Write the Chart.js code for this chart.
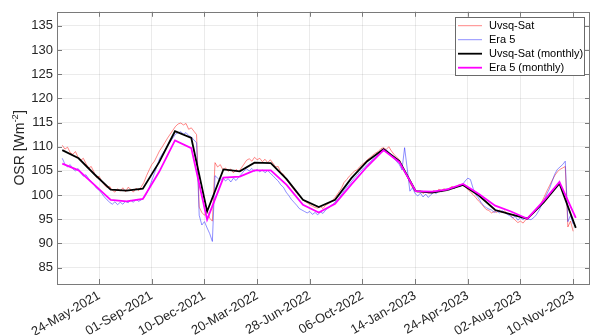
<!DOCTYPE html>
<html>
<head>
<meta charset="utf-8">
<script src="https://cdn.jsdelivr.net/npm/chart.js@4/dist/chart.umd.min.js"></script>
<style>
  html, body { margin: 0; padding: 0; background: #fff; }
</style>
</head>
<body>
<canvas id="chart" width="592" height="335"></canvas>
<script>
// x positions are days counted from 24-May-2021 (first labelled tick)
const tickLabels = ['24-May-2021', '01-Sep-2021', '10-Dec-2021', '20-Mar-2022', '28-Jun-2022',
  '06-Oct-2022', '14-Jan-2023', '24-Apr-2023', '02-Aug-2023', '10-Nov-2023'];
const tickDays = [0, 100, 200, 300, 400, 500, 600, 700, 800, 900];
const yTicks = [85, 90, 95, 100, 105, 110, 115, 120, 125, 130, 135];

// monthly means (mid-month)
const monthDates = ['2021-03-15', '2021-04-15', '2021-05-15', '2021-06-15', '2021-07-15', '2021-08-15',
  '2021-09-15', '2021-10-15', '2021-11-15', '2021-12-15', '2022-01-15', '2022-02-15',
  '2022-03-15', '2022-04-15', '2022-05-15', '2022-06-15', '2022-07-15', '2022-08-15',
  '2022-09-15', '2022-10-15', '2022-11-15', '2022-12-15', '2023-01-15', '2023-02-15',
  '2023-03-15', '2023-04-15', '2023-05-15', '2023-06-15', '2023-07-15', '2023-08-15',
  '2023-09-15', '2023-10-15', '2023-11-15'];
const uvsqMonthly = [109.3, 107.6, 104.3, 101.1, 100.9, 101.3, 106.8, 113.2, 111.8, 96.6, 105.3, 104.9,
  106.7, 106.6, 103.3, 99.0, 97.5, 99.0, 103.5, 107.0, 109.5, 107.0, 100.8, 100.5,
  101.0, 102.1, 99.9, 96.9, 96.0, 95.1, 98.5, 102.4, 93.2];
const era5Monthly = [106.5, 105.1, 102.1, 99.0, 98.7, 99.2, 104.8, 111.3, 109.7, 94.9, 103.6, 103.8,
  105.1, 105.1, 102.1, 98.0, 96.4, 98.2, 102.2, 105.9, 109.3, 106.8, 100.8, 100.7,
  101.1, 102.3, 100.2, 97.8, 96.6, 95.1, 98.8, 102.7, 95.3];

// daily series, one value every 5 days from 15-Mar-2021
const dailyStart = '2021-03-15';
const dailyStep = 5;
const uvsqDaily = [
  110.3, 109.5, 109.9, 108.8, 108.4, 109.0, 107.8, 107.2, 107.6, 106.5,
  105.6, 105.9, 104.8, 103.6, 103.9, 102.8, 102.1, 101.5, 101.8, 101.0,
  100.6, 101.3, 100.8, 101.5, 100.7, 101.6, 101.2, 100.6, 101.4, 100.9,
  101.7, 102.6, 104.0, 105.2, 106.3, 107.0, 108.1, 109.2, 110.0, 110.9,
  111.8, 112.6, 113.4, 114.2, 114.7, 114.9, 114.5, 114.8, 113.6, 113.9,
  113.2, 112.5, 97.5, 96.4, 95.8, 96.9, 95.2, 94.6, 106.7, 105.8,
  106.3, 105.2, 105.6, 104.9, 105.4, 104.6, 105.3, 104.8, 105.6, 106.4,
  107.2, 107.5, 107.0, 107.8, 107.3, 107.6, 106.9, 107.4, 106.7, 107.3,
  106.6, 105.8, 105.9, 104.6, 104.3, 103.2, 102.6, 101.8, 101.1, 100.4,
  99.9, 99.2, 98.7, 98.4, 98.0, 97.7, 97.4, 97.3, 97.6, 97.2,
  97.9, 98.2, 98.6, 99.1, 99.8, 100.6, 101.4, 102.6, 103.2, 103.9,
  104.4, 105.0, 105.2, 105.9, 106.4, 106.8, 107.4, 107.8, 108.3, 108.7,
  109.0, 109.6, 109.8, 109.4, 110.0, 109.1, 108.4, 107.8, 107.3, 105.9,
  104.8, 103.9, 102.5, 101.5, 101.0, 100.6, 100.9, 100.3, 100.7, 100.4,
  100.5, 100.9, 100.7, 101.2, 101.0, 101.3, 101.1, 101.4, 101.8, 101.5,
  101.9, 102.2, 102.0, 101.7, 101.2, 100.6, 100.1, 99.5, 98.8, 98.3,
  97.6, 97.0, 96.8, 96.3, 96.6, 96.4, 96.9, 96.3, 96.7, 96.2,
  96.0, 95.3, 94.8, 94.3, 94.6, 94.2, 94.9, 95.2, 96.0, 96.2,
  96.8, 97.6, 98.5, 99.6, 100.8, 101.9, 103.0, 104.0, 104.8, 105.3,
  105.6, 105.9, 93.4, 94.6, 92.5
];
const era5Daily = [
  107.6, 106.4, 105.8, 106.3, 105.4, 105.0, 105.5, 104.6, 103.9, 104.2,
  103.4, 102.8, 102.2, 101.4, 101.0, 100.3, 99.6, 99.0, 98.5, 98.1,
  98.6, 98.0, 98.5, 98.1, 98.7, 98.4, 98.9, 98.5, 99.1, 98.7,
  99.0, 99.4, 100.3, 101.5, 103.0, 104.5, 106.0, 107.6, 108.5, 109.3,
  110.2, 111.0, 111.8, 112.6, 112.9, 113.1, 112.6, 112.9, 112.3, 112.0,
  111.4, 110.8, 95.8, 93.8, 94.5, 93.2, 92.0, 90.4, 104.0, 103.5,
  103.0, 103.6, 102.9, 103.4, 102.7, 103.5, 103.0, 103.7, 104.3, 105.0,
  105.4, 105.0, 105.5, 104.9, 105.3, 104.8, 105.2, 104.6, 105.1, 104.5,
  104.0, 103.4, 102.9, 102.1, 101.6, 100.6, 99.9, 99.1, 98.5, 97.9,
  97.2, 96.9, 96.6, 96.3, 96.6, 96.0, 96.4, 95.9, 96.5, 96.2,
  96.9, 97.3, 97.8, 98.2, 98.8, 99.3, 100.1, 100.9, 101.6, 102.2,
  102.9, 103.6, 104.1, 104.8, 105.3, 105.9, 106.4, 106.9, 107.4, 107.9,
  108.4, 108.8, 109.1, 109.4, 108.8, 108.2, 107.6, 106.9, 106.3, 105.2,
  109.8, 105.4, 100.8, 101.5, 100.3, 99.8, 100.4, 99.6, 100.2, 99.5,
  100.1, 100.6, 100.3, 100.9, 100.7, 101.1, 101.3, 101.0, 101.6, 101.4,
  101.9, 101.7, 102.2, 102.9, 103.5, 103.2, 101.4, 100.1, 99.4, 98.5,
  97.8, 97.4, 97.1, 96.9, 96.4, 96.7, 96.3, 96.8, 96.4, 96.0,
  95.7, 95.3, 95.6, 94.8, 95.3, 94.9, 95.4, 95.0, 94.9, 95.3,
  95.9, 96.8, 97.9, 99.0, 100.2, 101.3, 102.8, 104.3, 105.3, 105.8,
  106.3, 107.0, 94.5, 95.8, 94.0
];

const origin = Date.UTC(2021, 4, 24);
const dayOf = (s) => (Date.parse(s) - origin) / 86400000;
const d0 = dayOf(dailyStart);

const daily = (vals) => vals.map((v, i) => ({ x: d0 + i * dailyStep, y: v }));
const monthly = (vals) => vals.map((v, i) => ({ x: dayOf(monthDates[i]), y: v }));

const FONT = '"Liberation Sans", Arial, Helvetica, sans-serif';
const TXT = '#262626';
const FRAME = '#7a7a7a';

// frame, inward ticks, y title and legend, MATLAB style
const decor = {
  id: 'decor',
  afterDraw(chart) {
    const ctx = chart.ctx;
    const a = chart.chartArea;
    const xs = chart.scales.x, ys = chart.scales.y;
    ctx.save();
    ctx.strokeStyle = FRAME;
    ctx.lineWidth = 1;
    ctx.beginPath();
    tickDays.forEach(v => {
      const px = Math.round(xs.getPixelForValue(v)) + 0.5;
      ctx.moveTo(px, a.bottom); ctx.lineTo(px, a.bottom - 5);
      ctx.moveTo(px, a.top); ctx.lineTo(px, a.top + 5);
    });
    yTicks.forEach(v => {
      const py = Math.round(ys.getPixelForValue(v)) + 0.5;
      ctx.moveTo(a.left, py); ctx.lineTo(a.left + 5, py);
      ctx.moveTo(a.right, py); ctx.lineTo(a.right - 5, py);
    });
    ctx.stroke();
    ctx.strokeRect(Math.round(a.left) + 0.5, Math.round(a.top) + 0.5,
      Math.round(a.right - a.left) - 1, Math.round(a.bottom - a.top));

    // y axis title with superscript
    ctx.translate(20, (a.top + a.bottom) / 2);
    ctx.rotate(-Math.PI / 2);
    ctx.fillStyle = TXT;
    ctx.textBaseline = 'middle';
    ctx.textAlign = 'left';
    const big = '14px ' + FONT, small = '9.5px ' + FONT;
    ctx.font = big; const w1 = ctx.measureText('OSR [Wm').width; const w3 = ctx.measureText(']').width;
    ctx.font = small; const w2 = ctx.measureText('-2').width;
    let x = -(w1 + w2 + w3) / 2;
    ctx.font = big; ctx.fillText('OSR [Wm', x, 0); x += w1;
    ctx.font = small; ctx.fillText('-2', x, -5); x += w2;
    ctx.font = big; ctx.fillText(']', x, 0);
    ctx.restore();

    // legend box
    ctx.save();
    const lx = 455.5, ly = 17.5, lw = 129, lh = 58;
    ctx.fillStyle = '#fff';
    ctx.fillRect(lx, ly, lw, lh);
    ctx.strokeStyle = '#6a6a6a';
    ctx.lineWidth = 1;
    ctx.strokeRect(lx, ly, lw, lh);
    ctx.font = '11px ' + FONT;
    ctx.textBaseline = 'middle';
    ctx.fillStyle = '#000';
    chart.data.datasets.forEach((ds, i) => {
      const ry = 25.7 + i * 14;
      ctx.strokeStyle = ds.borderColor;
      ctx.lineWidth = ds.borderWidth;
      ctx.beginPath();
      ctx.moveTo(458, ry); ctx.lineTo(482, ry);
      ctx.stroke();
      ctx.fillText(ds.label, 489, ry + 0.5);
    });
    ctx.restore();
  }
};

new Chart(document.getElementById('chart'), {
  type: 'line',
  data: {
    datasets: [
      { label: 'Uvsq-Sat', data: daily(uvsqDaily), borderColor: 'rgba(255,0,0,0.6)', borderWidth: 0.8, order: 4 },
      { label: 'Era 5', data: daily(era5Daily), borderColor: 'rgba(20,20,255,0.6)', borderWidth: 0.8, order: 3 },
      { label: 'Uvsq-Sat (monthly)', data: monthly(uvsqMonthly), borderColor: '#000000', borderWidth: 1.8, order: 2 },
      { label: 'Era 5 (monthly)', data: monthly(era5Monthly), borderColor: '#ff00ff', borderWidth: 1.8, order: 1 }
    ]
  },
  options: {
    responsive: false,
    animation: false,
    devicePixelRatio: 1,
    elements: { point: { radius: 0 }, line: { tension: 0 } },
    layout: { padding: { top: 10, right: 2, left: 0, bottom: 0 } },
    plugins: { legend: { display: false }, tooltip: { enabled: false } },
    scales: {
      x: {
        type: 'linear',
        min: -80,
        max: 932,
        afterBuildTicks: (s) => { s.ticks = tickDays.map(v => ({ value: v })); },
        afterFit: (s) => { s.height = 51; },
        ticks: {
          autoSkip: false,
          minRotation: 30,
          maxRotation: 30,
          padding: 4,
          color: TXT,
          font: { family: FONT, size: 13 },
          callback: (v, i) => tickLabels[i]
        },
        grid: { color: 'rgba(0,0,0,0.08)', drawTicks: false },
        border: { display: false }
      },
      y: {
        min: 81.6,
        max: 137.9,
        afterBuildTicks: (s) => { s.ticks = yTicks.map(v => ({ value: v })); },
        afterFit: (s) => { s.width = 57; },
        ticks: {
          padding: 4,
          color: TXT,
          font: { family: FONT, size: 13 },
          callback: (v) => String(v)
        },
        grid: { color: 'rgba(0,0,0,0.08)', drawTicks: false },
        border: { display: false }
      }
    }
  },
  plugins: [decor]
});
</script>
</body>
</html>
